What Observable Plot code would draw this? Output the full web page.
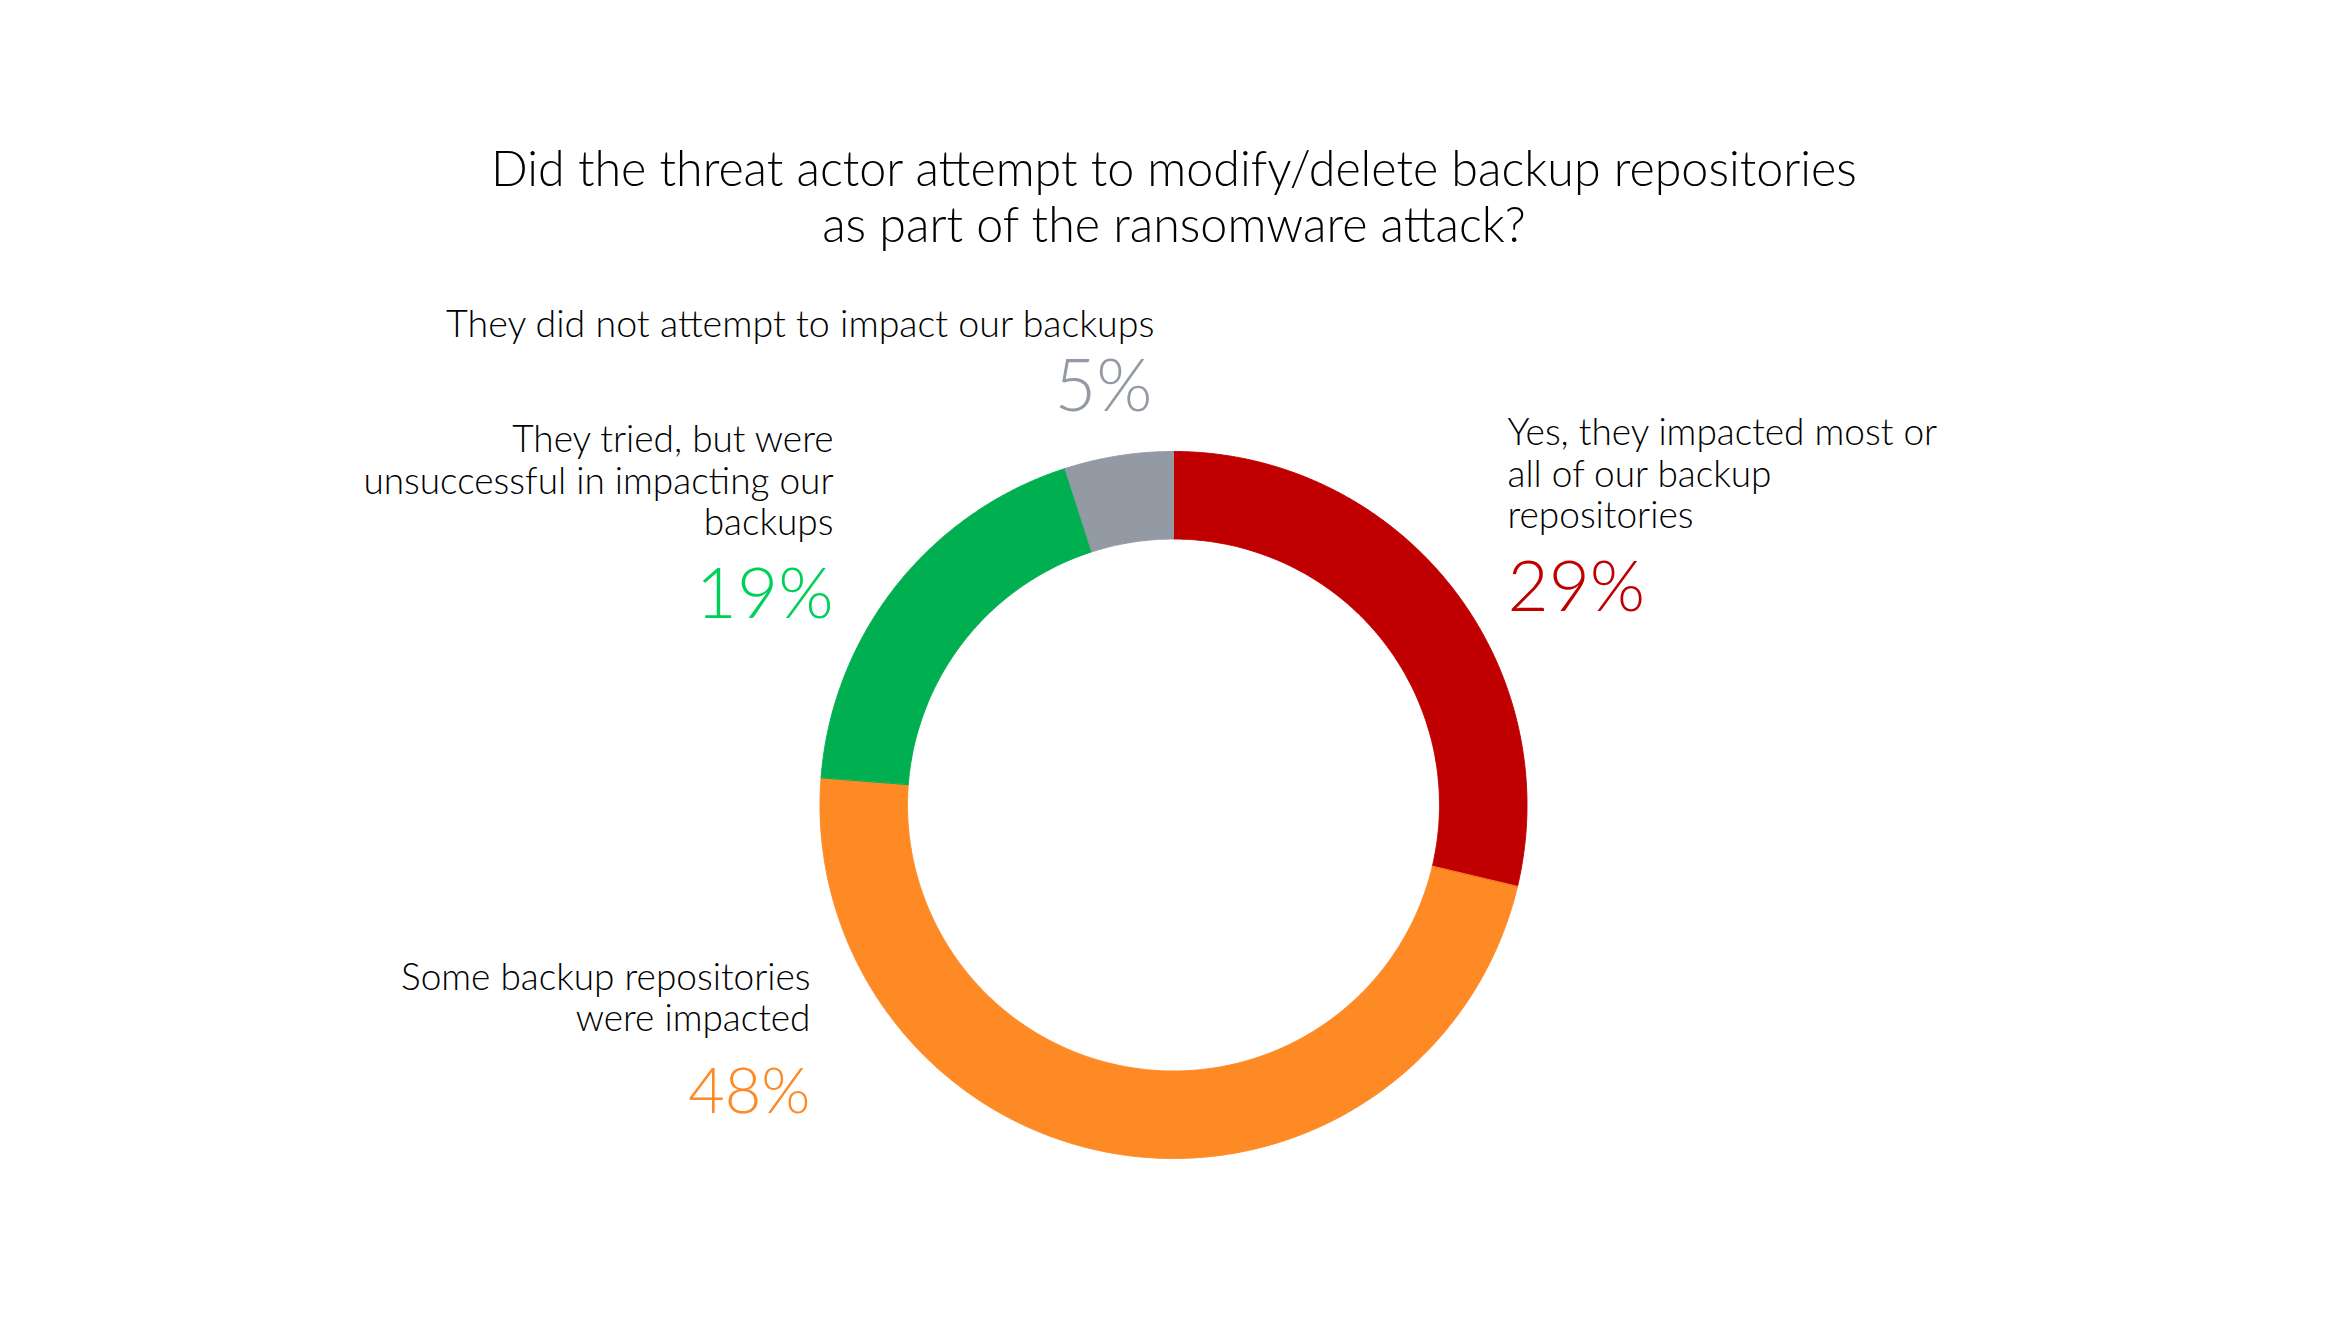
<!DOCTYPE html>
<html>
<head>
<meta charset="utf-8">
<script src="https://cdn.jsdelivr.net/npm/d3@7"></script>
<script src="https://cdn.jsdelivr.net/npm/@observablehq/plot@0.6"></script>
<style>
  html, body { margin: 0; padding: 0; background: #fff; }
  #wrap { width: 2346px; height: 1320px; overflow: hidden; }
  #title { box-sizing: border-box; height: 260px; padding-top: 139px; text-align: center;
           font-family: Lato, sans-serif; font-size: 48.4px; font-weight: 300; line-height: 56px; color: #000;
           padding-left: 2px; }
  #chart svg { display: block; }
</style>
</head>
<body>
<div id="wrap">
  <div id="title">Did the threat actor attempt to modify/delete backup repositories<br>as part of the ransomware attack?</div>
  <div id="chart"></div>
</div>
<script>
// ---- data ----
const categories = [
  "Yes, they impacted most or all of our backup repositories",
  "Some backup repositories were impacted",
  "They tried, but were unsuccessful in impacting our backups",
  "They did not attempt to impact our backups"
];
const values = [29, 48, 19, 5];
const percentLabels = ["29%", "48%", "19%", "5%"];
const labelTexts = [
  "Yes, they impacted most or\nall of our backup\nrepositories",
  "Some backup repositories\nwere impacted",
  "They tried, but were\nunsuccessful in impacting our\nbackups",
  "They did not attempt to impact our backups"
];

// ---- styles / layout ----
const sliceColors = ["#C00000", "#FE8A26", "#00B050", "#939AA4"];
const percentColors = ["#C00000", "#FE8A26", "#00D05A", "#939AA4"];
// label anchors in units of outer radius, relative to the donut centre
const labelLayout = [
  {lx: 0.9448, ly: 0.7822, px: 0.9448, py: 0.5474, anchor: "start", size: 37, pSize: 71},
  {lx: -1.0269, ly: -0.6407, px: -1.0269, py: -0.8727, anchor: "end", size: 37, pSize: 63},
  {lx: -0.9618, ly: 0.7624, px: -0.9618, py: 0.5304, anchor: "end", size: 37, pSize: 71},
  {lx: -0.0538, ly: 1.3225, px: -0.0594, py: 1.1132, anchor: "end", size: 37.6, pSize: 72}
];
const innerRatio = 266 / 353.5;

// ---- geometry from data ----
const arcs = d3.pie().sort(null).value(d => d)(values);
const ring = [];
arcs.forEach((s, i) => {
  const span = s.endAngle - s.startAngle;
  const n = Math.max(4, Math.ceil(span / 0.004));
  for (let k = 0; k <= n; k++) {
    const a = s.startAngle + span * k / n;
    ring.push({cat: categories[i], x: Math.sin(a), y: Math.cos(a)});
  }
  for (let k = n; k >= 0; k--) {
    const a = s.startAngle + span * k / n;
    ring.push({cat: categories[i], x: innerRatio * Math.sin(a), y: innerRatio * Math.cos(a)});
  }
});

const labelMarks = [];
categories.forEach((c, i) => {
  const L = labelLayout[i];
  labelMarks.push(Plot.text([labelTexts[i]], {
    x: () => L.lx, y: () => L.ly, text: d => d,
    textAnchor: L.anchor, lineAnchor: "bottom", lineHeight: 1.127,
    fontSize: L.size, fill: "#000", fontFamily: "Lato", fontWeight: 300
  }));
  labelMarks.push(Plot.text([percentLabels[i]], {
    x: () => L.px, y: () => L.py, text: d => d,
    textAnchor: L.anchor, lineAnchor: "bottom",
    fontSize: L.pSize, fill: percentColors[i], fontFamily: "Lato", fontWeight: 300
  }));
});

const chartH = 1060;
const cx = 1173, cyPage = 804.5, R = 353.5, titleH = 260;
const cy = cyPage - titleH;
const chart = Plot.plot({
  width: 2346,
  height: chartH,
  marginLeft: cx - R,
  marginRight: 2346 - (cx + R),
  marginTop: cy - R,
  marginBottom: chartH - (cy + R),
  style: {fontFamily: "Lato", background: "#fff"},
  x: {domain: [-1, 1], axis: null},
  y: {domain: [-1, 1], axis: null},
  color: {domain: categories, range: sliceColors},
  marks: [
    Plot.line(ring, {x: "x", y: "y", z: "cat", fill: "cat", stroke: "cat", strokeWidth: 1, curve: "linear-closed"}),
    ...labelMarks
  ]
});
document.getElementById("chart").appendChild(chart);
</script>
</body>
</html>
